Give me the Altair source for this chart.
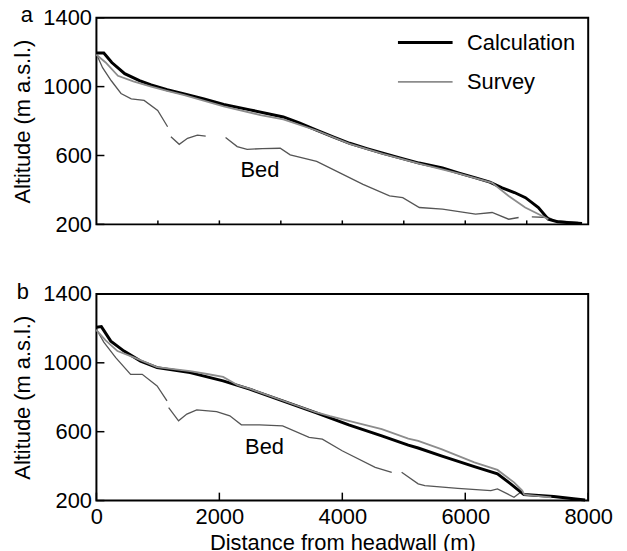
import altair as alt
import pandas as pd

# ---------------- data ----------------
# Panel a
a_calc_x = [0, 120, 250, 460, 700, 890, 1150, 1430, 1750, 2070, 2500, 3040, 3300, 3580, 3850, 4120, 4400, 4660, 4950, 5250, 5630, 5900, 6170, 6400, 6600, 6800, 6980, 7190, 7350, 7500, 7700, 7900]
a_calc_y = [1195, 1195, 1140, 1075, 1035, 1010, 982, 958, 928, 896, 865, 824, 789, 747, 708, 671, 640, 613, 585, 556, 527, 498, 470, 445, 412, 385, 355, 298, 230, 215, 210, 205]

a_surv_x = [0, 150, 350, 600, 890, 1150, 1430, 2070, 2670, 3040, 3580, 4120, 4660, 5250, 5900, 6437, 6706, 6975, 7244, 7352]
a_surv_y = [1185, 1140, 1063, 1030, 1000, 975, 950, 885, 835, 810, 745, 668, 610, 553, 495, 441, 365, 298, 250, 230]

a_bed_x = [0, 100, 242, 400, 566, 776, 997, 1158, None, 1212, 1347, 1482, 1643, 1778, None, 2101, 2290, 2451, 2700, 2990, 3152, 3583, 3960, 4337, 4768, 4983, 5253, 5630, 6168, 6437, 6706, 6868, None, 7083, 7352, 7460, 7838]
a_bed_y = [1190, 1110, 1034, 960, 929, 920, 862, 767, None, 709, 665, 700, 718, 713, None, 705, 652, 636, 640, 642, 604, 566, 499, 432, 365, 355, 298, 288, 259, 269, 230, 240, None, 244, 240, 221, 211]

# Panel b
b_calc_x = [0, 80, 234, 449, 718, 987, 1524, 2061, 2492, 3029, 3567, 4105, 4642, 5073, 5234, 5610, 6148, 6524, 6739, 6954, 7440, 7761, 7950]
b_calc_y = [1207, 1210, 1126, 1068, 1010, 972, 943, 895, 847, 779, 711, 640, 576, 522, 505, 460, 397, 355, 297, 235, 223, 210, 203]

b_surv_x = [0, 150, 342, 619, 987, 1524, 1800, 2061, 2300, 2492, 3029, 3567, 3800, 4105, 4642, 5073, 5234, 5610, 6148, 6524, 6793, 6927, 6960, 7400]
b_surv_y = [1190, 1130, 1068, 1030, 975, 952, 935, 918, 870, 850, 781, 713, 690, 663, 615, 560, 547, 499, 422, 378, 306, 258, 235, 219]

b_bed_x = [0, 120, 314, 556, 745, 987, 1148, None, 1175, 1336, 1471, 1632, 1955, 2170, 2358, 2653, 3029, 3460, 3675, 3997, 4535, 4804, None, 4965, 5234, 5342, 5879, 6417, 6524, 6686, 6793, 6900, 6954, 7440, 7800]
b_bed_y = [1195, 1120, 1030, 933, 933, 866, 779, None, 740, 663, 702, 727, 717, 692, 640, 640, 634, 567, 557, 489, 393, 364, None, 364, 297, 287, 271, 258, 268, 239, 219, 248, 235, 223, 210]

series_names = ["Calculation", "Survey"]
series_colors = ["#000000", "#8c8c8c"]
series_widths = [3.0, 1.8]
bed_color = "#555555"

y_ticks = [200, 600, 1000, 1400]
a_x_ticks = [1000, 2000, 3000, 4000, 5000, 6000, 7000]
b_x_ticks = [0, 2000, 4000, 6000, 8000]
panel_labels = ["a", "b"]
bed_label = "Bed"
a_bed_label_pos = (2660, 515)
b_bed_label_pos = (2735, 510)

FONT = "Liberation Sans"
FS = 22
W, H = 495, 208


def lines_df(cx, cy, sx, sy):
    rows = [{"d": x, "alt": y, "series": "Calculation"} for x, y in zip(cx, cy)]
    rows += [{"d": x, "alt": y, "series": "Survey"} for x, y in zip(sx, sy)]
    return pd.DataFrame(rows)


def bed_df(bx, by):
    rows, seg = [], 0
    for x, y in zip(bx, by):
        if x is None:
            seg += 1
            continue
        rows.append({"d": x, "alt": y, "seg": seg})
    return pd.DataFrame(rows)


xscale = alt.Scale(domain=[0, 8000], nice=False, zero=False)
yscale = alt.Scale(domain=[200, 1400], nice=False, zero=False)


def panel(cx, cy, sx, sy, bx, by, xticks, xtick_len, label, label_pos, bed_pos, show_x, show_legend):
    if show_x:
        xaxis = alt.Axis(values=b_x_ticks, format="d", ticks=False, tickSize=0, domain=False, grid=False,
                         labelFont=FONT, labelFontSize=FS, labelPadding=6, labelColor="black",
                         title="Distance from headwall (m)", titleFont=FONT, titleFontSize=FS,
                         titleFontWeight="normal", titlePadding=5, titleColor="black",
                         labelFlush=False)
    else:
        xaxis = None
    yaxis = alt.Axis(values=y_ticks, format="d", ticks=False, tickSize=0, domain=False, grid=False,
                     labelFont=FONT, labelFontSize=FS, labelPadding=5, labelColor="black",
                     title="Altitude (m a.s.l.)", titleFont=FONT, titleFontSize=FS,
                     titleFontWeight="normal", titlePadding=8, titleColor="black")

    bed = alt.Chart(bed_df(bx, by)).mark_line(color=bed_color, strokeWidth=1.3).encode(
        x=alt.X("d:Q", scale=xscale, axis=xaxis),
        y=alt.Y("alt:Q", scale=yscale, axis=yaxis),
        detail="seg:N",
        order="d:Q",
    )

    if show_legend:
        legend = alt.Legend(title=None, orient="none", legendX=302, legendY=-4,
                            symbolType="stroke", symbolSize=3025, labelFont=FONT,
                            labelFontSize=FS, labelColor="black", labelOffset=13,
                            rowPadding=-7)
    else:
        legend = None

    lines = alt.Chart(lines_df(cx, cy, sx, sy)).mark_line().encode(
        x=alt.X("d:Q", scale=xscale),
        y=alt.Y("alt:Q", scale=yscale),
        color=alt.Color("series:N", scale=alt.Scale(domain=series_names, range=series_colors), legend=legend),
        strokeWidth=alt.StrokeWidth("series:N", scale=alt.Scale(domain=series_names, range=series_widths), legend=legend),
        order="d:Q",
    )

    xt = pd.DataFrame({"d": xticks, "y0": [200] * len(xticks), "y1": [200 + xtick_len] * len(xticks)})
    xtick_rules = alt.Chart(xt).mark_rule(color="black", strokeWidth=1.5).encode(
        x=alt.X("d:Q", scale=xscale), y=alt.Y("y0:Q", scale=yscale), y2="y1:Q")

    yt = pd.DataFrame({"alt": y_ticks, "x0": [0] * len(y_ticks), "x1": [130] * len(y_ticks)})
    ytick_rules = alt.Chart(yt).mark_rule(color="black", strokeWidth=1.5).encode(
        y=alt.Y("alt:Q", scale=yscale), x=alt.X("x0:Q", scale=xscale), x2="x1:Q")

    bedtxt = alt.Chart(pd.DataFrame({"d": [bed_pos[0]], "alt": [bed_pos[1]], "t": [bed_label]})).mark_text(
        font=FONT, fontSize=FS, color="black", align="center", baseline="middle").encode(
        x=alt.X("d:Q", scale=xscale), y=alt.Y("alt:Q", scale=yscale), text="t:N")

    lab = alt.Chart(pd.DataFrame({"t": [label]})).mark_text(
        font=FONT, fontSize=FS, color="black", align="center", baseline="alphabetic").encode(
        x=alt.value(label_pos[0]), y=alt.value(label_pos[1]), text="t:N")

    return alt.layer(bed, lines, xtick_rules, ytick_rules, bedtxt, lab).properties(
        width=W, height=H, view=alt.ViewBackground(stroke="black", strokeWidth=2))


pa = panel(a_calc_x, a_calc_y, a_surv_x, a_surv_y, a_bed_x, a_bed_y, a_x_ticks, 23,
           panel_labels[0], (-70, 4), a_bed_label_pos, False, True)
pb = panel(b_calc_x, b_calc_y, b_surv_x, b_surv_y, b_bed_x, b_bed_y, b_x_ticks, 46,
           panel_labels[1], (-74, 5), b_bed_label_pos, True, False)

chart = alt.vconcat(pa, pb, spacing=44).resolve_scale(color="independent", strokeWidth="independent").properties(
    padding={"left": 3, "top": -7, "right": 5, "bottom": 0}, background="white"
).configure_view(stroke="black", strokeWidth=2)

chart.save("out.html", embed_options={"renderer": "svg", "actions": False})
